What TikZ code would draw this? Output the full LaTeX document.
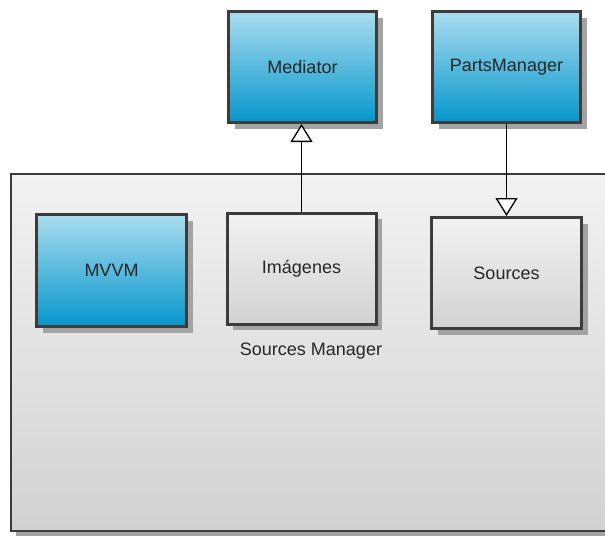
\documentclass[tikz,border=0pt]{standalone}
\usepackage{fontspec}
\setmainfont{Liberation Sans}
\usetikzlibrary{arrows.meta,shadows}
\definecolor{bluetop}{HTML}{AADDEF}
\definecolor{bluebot}{HTML}{0596CB}
\definecolor{graytop}{HTML}{F2F2F2}
\definecolor{graybot}{HTML}{D2D2D2}
\definecolor{edge}{HTML}{3C3C3C}
\definecolor{shadowc}{HTML}{A3A3A3}
\tikzset{
  lbl/.style={font=\fontsize{18}{21}\selectfont, text=black!85},
  box/.style={draw=edge, line width=3pt, rectangle, inner sep=0pt, lbl,
    drop shadow={shadow xshift=6pt, shadow yshift=-6pt, fill=shadowc, opacity=1}},
  bluebox/.style={box, top color=bluetop, bottom color=bluebot},
  graybox/.style={box, top color=graytop, bottom color=graybot},
  inherit/.style={draw=black, line width=1.3pt,
    -{Triangle[open, length=18pt, width=22pt, fill=white, line width=1.3pt]}},
}
\begin{document}
\begin{tikzpicture}[x=1pt,y=-1pt]
\useasboundingbox (0,0) rectangle (605,536);
\fill[white] (0,0) rectangle (605,536);
% container
\fill[shadowc] (16,179) rectangle (640,536);
\shade[top color=graytop, bottom color=graybot, draw=edge, line width=2.5pt]
  (11,174) rectangle (640,531);
\node[lbl] (smlabel) at (311,351) {Sources Manager};
% nodes
\node[bluebox, minimum width=148pt, minimum height=111pt] (med) at (302.5,67) {Mediator};
\node[bluebox, minimum width=148pt, minimum height=111pt] (pm) at (506.5,67) {PartsManager};
\node[bluebox, minimum width=150pt, minimum height=112pt] (mvvm) at (111.5,270.5) {MVVM};
\node[graybox, minimum width=149pt, minimum height=111pt] (img) at (301.5,268.5) {Imágenes};
\node[graybox, minimum width=150pt, minimum height=111pt] (src) at (506.5,273) {Sources};
% connectors
\draw[inherit] (img.north) -- (img.north |- med.south);
\draw[inherit] (pm.south) -- (src.north);
\end{tikzpicture}
\end{document}
